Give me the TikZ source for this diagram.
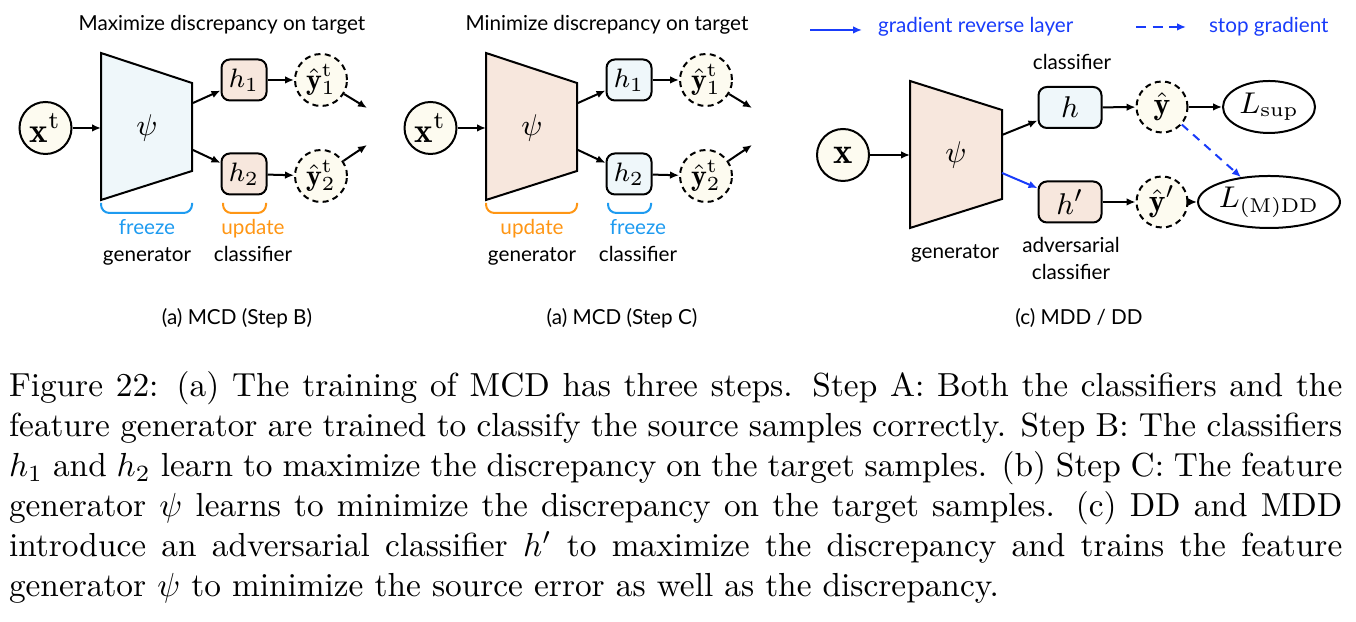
\documentclass[tikz,border=0pt]{standalone}
\usepackage{fontspec}
\usepackage{amsmath}
\usetikzlibrary{arrows.meta,shapes.geometric}
\newfontfamily\lblfont{Lato}
\definecolor{creamfill}{RGB}{253,251,240}
\definecolor{icefill}{RGB}{239,247,250}
\definecolor{peachfill}{RGB}{247,231,221}
\definecolor{freezeblue}{RGB}{30,155,240}
\definecolor{updateorange}{RGB}{255,150,20}
\definecolor{gradblue}{RGB}{25,60,250}
\tikzset{
  datapt/.style={draw, circle, fill=creamfill, minimum size=15.6pt, inner sep=0pt, font=\fontsize{10.5}{10.5}\selectfont},
  predpt/.style={datapt, dash pattern=on 1.8pt off 1.3pt, font=\fontsize{9}{9}\selectfont},
  clsbox/.style={draw, rounded corners=2.5pt, minimum width=13.5pt, minimum height=12.3pt, inner sep=0pt, font=\fontsize{8.5}{8.5}\selectfont},
  lossnode/.style={draw, ellipse, minimum width=27.6pt, minimum height=15.6pt, inner sep=0pt, font=\fontsize{9}{9}\selectfont},
  genlbl/.style={font=\fontsize{9}{9}\selectfont},
  lbl/.style={font=\lblfont\fontsize{6.2}{8}\selectfont, inner sep=0pt},
  brace/.style={rounded corners=2.5pt},
}
\begin{document}
\begin{tikzpicture}[x=0.3pt, y=-0.3pt, line width=0.6pt, >={Latex[length=2.7pt,width=2.3pt]}]
\useasboundingbox (0,0) rectangle (1356,622);

% (a) MCD, step B
\node[lbl, anchor=base] (titleB) at (222,31) {Maximize discrepancy on target};
\node[datapt] (xB) at (45.5,128) {$\mathbf{x}^{\mathrm{t}}$};
\draw[fill=icefill] (101,53) -- (192,83) -- (192,171) -- (101,200) -- cycle;
\node[genlbl] (psiB) at (147,128) {$\psi$};
\coordinate (genBin) at (101,128);
\coordinate (genBup) at (193,103);
\coordinate (genBdn) at (193,150);
\node[clsbox, fill=peachfill] (h1B) at (244,80) {$h_1$};
\node[clsbox, fill=peachfill] (h2B) at (244,174) {$h_2$};
\node[predpt] (y1B) at (321,80) {$\hat{\mathbf{y}}^{\mathrm{t}}_1$};
\node[predpt] (y2B) at (321,176) {$\hat{\mathbf{y}}^{\mathrm{t}}_2$};
\coordinate (out1B) at (367,108);
\coordinate (out2B) at (367,145);
\draw[->] (xB) -- (genBin);
\draw[->] (genBup) -- (h1B);
\draw[->] (genBdn) -- (h2B);
\draw[->] (h1B) -- (y1B);
\draw[->] (h2B) -- (y2B);
\draw[->] (y1B) -- (out1B);
\draw[->] (y2B) -- (out2B);
\draw[brace, freezeblue] (101,203) -- (101,213) -- (192,213) -- (192,203);
\draw[brace, updateorange] (223,203) -- (223,213) -- (266,213) -- (266,203);
\node[lbl, freezeblue, anchor=base] (frzB) at (147,235) {freeze};
\node[lbl, anchor=base] (genlblB) at (147,262) {generator};
\node[lbl, updateorange, anchor=base] (updB) at (253,235) {update};
\node[lbl, anchor=base] (clslblB) at (253,262) {classifier};
\node[lbl, anchor=base] (capB) at (237,325) {(a) MCD (Step B)};

% (a) MCD, step C
\node[lbl, anchor=base] (titleC) at (607,31) {Minimize discrepancy on target};
\node[datapt] (xC) at (430.5,128) {$\mathbf{x}^{\mathrm{t}}$};
\draw[fill=peachfill] (486,53) -- (577,83) -- (577,171) -- (486,200) -- cycle;
\node[genlbl] (psiC) at (532,128) {$\psi$};
\coordinate (genCin) at (486,128);
\coordinate (genCup) at (578,103);
\coordinate (genCdn) at (578,150);
\node[clsbox, fill=icefill] (h1C) at (629,80) {$h_1$};
\node[clsbox, fill=icefill] (h2C) at (629,174) {$h_2$};
\node[predpt] (y1C) at (706,80) {$\hat{\mathbf{y}}^{\mathrm{t}}_1$};
\node[predpt] (y2C) at (706,176) {$\hat{\mathbf{y}}^{\mathrm{t}}_2$};
\coordinate (out1C) at (752,108);
\coordinate (out2C) at (752,145);
\draw[->] (xC) -- (genCin);
\draw[->] (genCup) -- (h1C);
\draw[->] (genCdn) -- (h2C);
\draw[->] (h1C) -- (y1C);
\draw[->] (h2C) -- (y2C);
\draw[->] (y1C) -- (out1C);
\draw[->] (y2C) -- (out2C);
\draw[brace, updateorange] (486,203) -- (486,213) -- (577,213) -- (577,203);
\draw[brace, freezeblue] (608,203) -- (608,213) -- (651,213) -- (651,203);
\node[lbl, updateorange, anchor=base] (updC) at (532,235) {update};
\node[lbl, anchor=base] (genlblC) at (532,262) {generator};
\node[lbl, freezeblue, anchor=base] (frzC) at (638,235) {freeze};
\node[lbl, anchor=base] (clslblC) at (638,262) {classifier};
\node[lbl, anchor=base] (capC) at (622,325) {(a) MCD (Step C)};

% (c) MDD / DD
\coordinate (grlA) at (810,30);
\coordinate (grlB) at (862,30);
\draw[->, gradblue] (grlA) -- (grlB);
\node[lbl, gradblue, anchor=base west] (grltxt) at (877,33) {gradient reverse layer};
\coordinate (stopA) at (1136,27);
\coordinate (stopB) at (1186,27);
\draw[->, gradblue, dash pattern=on 3pt off 2pt] (stopA) -- (stopB);
\node[lbl, gradblue, anchor=base west] (stoptxt) at (1208,33) {stop gradient};
\node[datapt, font=\fontsize{11}{11}\selectfont] (xD) at (843,155) {$\mathbf{x}$};
\draw[fill=peachfill] (910,81) -- (1002,110) -- (1002,199) -- (910,228) -- cycle;
\node[genlbl, font=\fontsize{9.5}{9.5}\selectfont] (psiD) at (956,155) {$\psi$};
\coordinate (genDin) at (910,155);
\coordinate (genDup) at (1002,135);
\coordinate (genDdn) at (1002,173);
\node[clsbox, fill=icefill, minimum width=18.9pt, font=\fontsize{9.5}{9.5}\selectfont] (hD) at (1070,107.5) {$h$};
\node[clsbox, fill=peachfill, minimum width=18.9pt, font=\fontsize{9.5}{9.5}\selectfont] (hpD) at (1070,202) {$h'$};
\node[predpt, minimum size=15.3pt, font=\fontsize{9.5}{9.5}\selectfont] (yD) at (1162,107) {$\hat{\mathbf{y}}$};
\node[predpt, minimum size=15.3pt, font=\fontsize{9.5}{9.5}\selectfont] (ypD) at (1162,202) {$\hat{\mathbf{y}}'$};
\node[lossnode] (Lsup) at (1269,107) {$L_{\mathrm{sup}}$};
\node[lossnode] (Lmdd) at (1269,202) {$L_{\mathrm{(M)DD}}$};
\draw[->] (xD) -- (genDin);
\draw[->] (genDup) -- (hD);
\draw[->, gradblue] (genDdn) -- (hpD);
\draw[->] (hD) -- (yD);
\draw[->] (hpD) -- (ypD);
\draw[->] (yD) -- (Lsup);
\draw[->] (ypD) -- (Lmdd);
\draw[->, gradblue, dash pattern=on 2.5pt off 2pt] (yD) -- (Lmdd);
\node[lbl, anchor=base] (clslblD) at (1072,70) {classifier};
\node[lbl, anchor=base] (genlblD) at (955,259) {generator};
\node[lbl, anchor=base] (advlblD) at (1071,253) {adversarial};
\node[lbl, anchor=base] (advclsD) at (1071,280) {classifier};
\node[lbl, anchor=base] (capD) at (1079,325) {(c) MDD / DD};

% caption
\node[anchor=base west, text width=400pt, align=justify, inner sep=0pt, font=\fontsize{10}{12}\selectfont] (caption) at (8,397)
  {Figure 22: (a) The training of MCD has three steps. Step A: Both the classifiers and the feature generator are trained to classify the source samples correctly. Step B: The classifiers $h_1$ and $h_2$ learn to maximize the discrepancy on the target samples. (b) Step C: The feature generator $\psi$ learns to minimize the discrepancy on the target samples. (c) DD and MDD introduce an adversarial classifier $h'$ to maximize the discrepancy and trains the feature generator $\psi$ to minimize the source error as well as the discrepancy.};
\end{tikzpicture}
\end{document}
